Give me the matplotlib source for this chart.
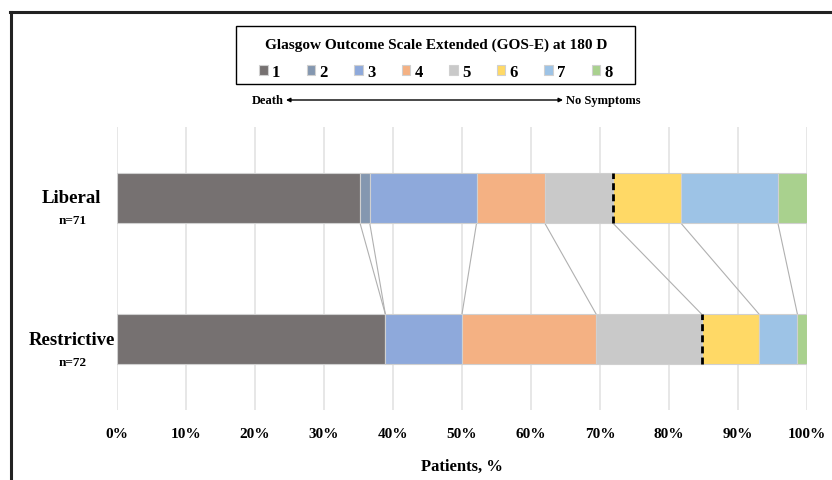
import matplotlib.pyplot as plt
from matplotlib.lines import Line2D
from matplotlib.patches import Rectangle
import numpy as np

plt.rcParams['font.family'] = 'Liberation Serif'
plt.rcParams['font.weight'] = 'bold'

groups = ['Liberal', 'Restrictive']
group_n = [71, 72]
scores = ['1', '2', '3', '4', '5', '6', '7', '8']
liberal_counts = [25, 1, 11, 7, 7, 7, 10, 3]
restrictive_counts = [28, 0, 8, 14, 11, 6, 4, 1]
colors = ['#767171', '#8497B0', '#8EA9DB', '#F4B183', '#C9C9C9', '#FFD966', '#9DC3E6', '#A9D18E']

lib_pct = np.array(liberal_counts) / group_n[0] * 100
res_pct = np.array(restrictive_counts) / group_n[1] * 100

fig = plt.figure(figsize=(8.32, 4.81), dpi=100)
ax = fig.add_axes([117 / 832, 1 - 411 / 481, 690 / 832, 283 / 481])

ypos = [1, 0]
h = 0.355
pcts = [lib_pct, res_pct]
for yi, p in zip(ypos, pcts):
    left = 0
    for j in range(len(scores)):
        ax.barh(yi, p[j], left=left, height=h, color=colors[j],
                edgecolor='#d0d0d0', linewidth=0.8, zorder=3,
                label=scores[j] if yi == 1 else None)
        left += p[j]

# series lines between the bars
cum_lib = np.cumsum(lib_pct)
cum_res = np.cumsum(res_pct)
for a, b in zip(cum_lib, cum_res):
    ax.plot([a, b], [1 - h / 2, h / 2], color='#b0b0b0', lw=0.8, zorder=2)

# good / poor outcome divider
for yi, c in zip(ypos, [cum_lib, cum_res]):
    ax.plot([c[4], c[4]], [yi - h / 2, yi + h / 2], color='black', lw=2,
            ls=(0, (2.5, 1.5)), zorder=4)

ax.set_xlim(0, 100)
ax.set_ylim(-0.5, 1.5)
ax.set_xticks(range(0, 101, 10))
ax.set_xticklabels([f'{t}%' for t in range(0, 101, 10)], fontsize=11, fontweight='bold')
ax.tick_params(axis='x', length=0, pad=12)
ax.set_yticks([])
for s in ax.spines.values():
    s.set_visible(False)
ax.grid(axis='x', color='#e3e3e3', lw=1.2, zorder=0)
ax.set_xlabel('Patients, %', fontsize=12, fontweight='bold', labelpad=13)

for yi, g, n in zip(ypos, groups, group_n):
    ax.text(-0.066, yi, g, transform=ax.get_yaxis_transform(), ha='center', va='center',
            fontsize=13.5, fontweight='bold')
    ax.text(-0.064, yi - 0.16, f'n={n}', transform=ax.get_yaxis_transform(), ha='center',
            va='center', fontsize=9.5, fontweight='bold')

leg = fig.legend(ncol=8, title='Glasgow Outcome Scale Extended (GOS-E) at 180 D',
                 loc='upper center', bbox_to_anchor=(436 / 832, 1 - 23 / 481),
                 fontsize=12, title_fontproperties={'weight': 'bold', 'size': 11},
                 frameon=False, handlelength=0.5, handleheight=0.5, handletextpad=0.25,
                 columnspacing=1.6, borderpad=0.45, labelspacing=0.75)
fig.add_artist(Rectangle((236 / 832, 1 - 85 / 481), 399 / 832, 58 / 481, fill=False,
                         edgecolor='black', lw=1.0, transform=fig.transFigure))

fig.text(284 / 832, 1 - 101 / 481, 'Death', ha='right', va='center', fontsize=9)
fig.text(566 / 832, 1 - 101 / 481, 'No Symptoms', ha='left', va='center', fontsize=9)
ax.annotate('', xy=(563, 380), xytext=(286, 380), xycoords='figure pixels',
            arrowprops=dict(arrowstyle='<|-|>', color='black', lw=1,
                            mutation_scale=6, shrinkA=0, shrinkB=0))

# outer frame
fig.add_artist(Line2D([10 / 832, 1], [1 - 13 / 481, 1 - 13 / 481], color='#222222', lw=2.2,
                      transform=fig.transFigure))
fig.add_artist(Line2D([11 / 832, 11 / 832], [1 - 13 / 481, 0], color='#222222', lw=2.2,
                      transform=fig.transFigure))

fig.savefig('out.png', dpi=100)
